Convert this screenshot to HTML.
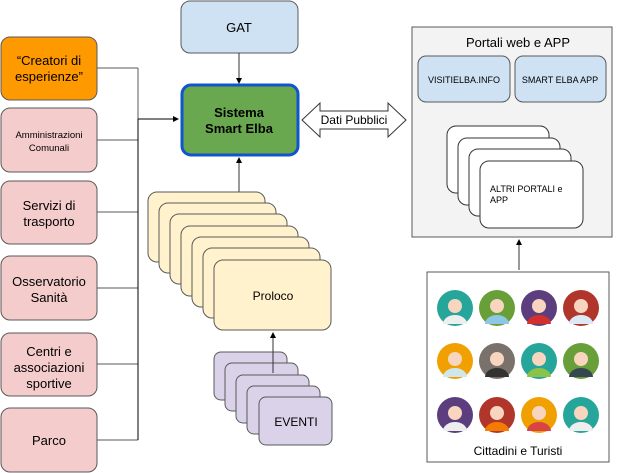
<!DOCTYPE html>
<html><head><meta charset="utf-8"><style>
html,body{margin:0;padding:0;background:#fff;}
svg{display:block;font-family:"Liberation Sans",Arial,sans-serif;}
</style></head><body>
<svg width="624" height="473" viewBox="0 0 624 473" xmlns="http://www.w3.org/2000/svg">
<defs><marker id="a" markerWidth="6" markerHeight="6" refX="5" refY="3" orient="auto" markerUnits="userSpaceOnUse"><path d="M0,0L6,3L0,6z" fill="#000"/></marker></defs>
<g stroke="#595959" stroke-width="1">
<rect x="1" y="37" width="96" height="63" rx="9" fill="#ff9900"/>
<rect x="1" y="108" width="96" height="64" rx="9" fill="#f4cccc"/>
<rect x="1" y="181" width="96" height="63" rx="9" fill="#f4cccc"/>
<rect x="1" y="256" width="96" height="64" rx="9" fill="#f4cccc"/>
<rect x="1" y="333" width="96" height="63" rx="9" fill="#f4cccc"/>
<rect x="1" y="408" width="96" height="64" rx="9" fill="#f4cccc"/>
<path d="M97,68H138M97,140H138M97,212H138M97,288H138M97,364H138M97,440H138M138,68V440" fill="none"/>
</g>
<path d="M138,119H178" stroke="#000" marker-end="url(#a)"/>
<path d="M138,119V440" stroke="#000"/>
<rect x="181" y="1" width="117" height="52" rx="9" fill="#cfe2f3" stroke="#595959"/>
<path d="M239,53V83" stroke="#333" marker-end="url(#a)"/>
<rect x="182" y="85" width="116" height="70" rx="9" fill="#6aa84f" stroke="#1155cc" stroke-width="3"/>
<path d="M239,192V158" stroke="#333" marker-end="url(#a)"/>
<g fill="#fff2cc" stroke="#595959">
<rect x="148" y="192" width="117" height="70" rx="9"/>
<rect x="159" y="203" width="117" height="70" rx="9"/>
<rect x="170" y="214" width="117" height="70" rx="9"/>
<rect x="181" y="226" width="117" height="70" rx="9"/>
<rect x="192" y="237" width="117" height="70" rx="9"/>
<rect x="203" y="248" width="117" height="70" rx="9"/>
<rect x="214" y="260" width="117" height="70" rx="9"/>
</g>
<g fill="#d9d2e9" stroke="#595959">
<rect x="214" y="352" width="73" height="48" rx="7"/>
<rect x="225" y="363" width="73" height="48" rx="7"/>
<rect x="236" y="375" width="73" height="48" rx="7"/>
<rect x="247" y="386" width="73" height="48" rx="7"/>
<rect x="259" y="397" width="73" height="48" rx="7"/>
</g>
<path d="M273,373V333" stroke="#333" marker-end="url(#a)"/>
<path d="M302,120L320,103V111H388V103L406,120L388,137V129H320V137Z" fill="#fff" stroke="#333"/>
<rect x="412" y="27" width="200" height="210" fill="#f3f3f3" stroke="#595959"/>
<rect x="418" y="56" width="92" height="46" rx="8" fill="#cfe2f3" stroke="#595959"/>
<rect x="515" y="56" width="91" height="46" rx="8" fill="#cfe2f3" stroke="#595959"/>
<g fill="#fff" stroke="#333">
<rect x="447" y="126" width="102" height="67" rx="9"/>
<rect x="458" y="138" width="102" height="67" rx="9"/>
<rect x="469" y="149" width="102" height="67" rx="9"/>
<rect x="480" y="161" width="103" height="67" rx="9"/>
</g>
<path d="M519,270V240" stroke="#333" marker-end="url(#a)"/>
<rect x="427" y="272" width="182" height="190" fill="#fff" stroke="#595959"/>
<g>
<circle cx="455" cy="308" r="18" fill="#26a69a"/><circle cx="497" cy="308" r="18" fill="#689f38"/><circle cx="539" cy="308" r="18" fill="#5c3d7e"/><circle cx="581" cy="308" r="18" fill="#b0352b"/>
<circle cx="455" cy="361" r="18" fill="#f0a000"/><circle cx="497" cy="361" r="18" fill="#7b716c"/><circle cx="539" cy="361" r="18" fill="#26a69a"/><circle cx="581" cy="361" r="18" fill="#689f38"/>
<circle cx="455" cy="415" r="18" fill="#5c3d7e"/><circle cx="497" cy="415" r="18" fill="#b0352b"/><circle cx="539" cy="415" r="18" fill="#f0a000"/><circle cx="581" cy="415" r="18" fill="#26a69a"/>
</g>
<g fill="#f8d5bf">
<circle cx="455" cy="306" r="7"/><circle cx="497" cy="306" r="7"/><circle cx="539" cy="306" r="7"/><circle cx="581" cy="306" r="7"/>
<circle cx="455" cy="359" r="7"/><circle cx="497" cy="359" r="7"/><circle cx="539" cy="359" r="7"/><circle cx="581" cy="359" r="7"/>
<circle cx="455" cy="413" r="7"/><circle cx="497" cy="413" r="7"/><circle cx="539" cy="413" r="7"/><circle cx="581" cy="413" r="7"/>
</g>
<g fill="#eee">
<path d="M443,324a12,9 0 0 1 24,0z"/><path d="M485,324a12,9 0 0 1 24,0z" fill="#8ec6e6"/><path d="M527,324a12,9 0 0 1 24,0z" fill="#d32f2f"/><path d="M569,324a12,9 0 0 1 24,0z" fill="#dce9f5"/>
<path d="M443,377a12,9 0 0 1 24,0z" fill="#cfe6ea"/><path d="M485,377a12,9 0 0 1 24,0z" fill="#333"/><path d="M527,377a12,9 0 0 1 24,0z" fill="#8bc34a"/><path d="M569,377a12,9 0 0 1 24,0z" fill="#37474f"/>
<path d="M443,431a12,9 0 0 1 24,0z"/><path d="M485,431a12,9 0 0 1 24,0z" fill="#f57c00"/><path d="M527,431a12,9 0 0 1 24,0z" fill="#d84343"/><path d="M569,431a12,9 0 0 1 24,0z"/>
</g>
<g fill="#000" text-anchor="middle">
<text x="49" y="65" font-size="13">“Creatori di</text>
<text x="49" y="81" font-size="13">esperienze”</text>
<text x="49" y="138" font-size="9.5">Amministrazioni</text>
<text x="49" y="151" font-size="9.5">Comunali</text>
<text x="49" y="210" font-size="13">Servizi di</text>
<text x="49" y="226" font-size="13">trasporto</text>
<text x="49" y="286" font-size="13">Osservatorio</text>
<text x="49" y="302" font-size="13">Sanità</text>
<text x="49" y="356" font-size="13">Centri e</text>
<text x="49" y="372" font-size="13">associazioni</text>
<text x="49" y="388" font-size="13">sportive</text>
<text x="49" y="445" font-size="13">Parco</text>
<text x="239" y="32" font-size="13">GAT</text>
<text x="239" y="117" font-size="13" font-weight="bold">Sistema</text>
<text x="239" y="133" font-size="13" font-weight="bold">Smart Elba</text>
<text x="273" y="300" font-size="12">Proloco</text>
<text x="296" y="426" font-size="12">EVENTI</text>
<text x="354" y="124" font-size="12">Dati Pubblici</text>
<text x="518" y="47" font-size="13">Portali web e APP</text>
<text x="464" y="83" font-size="9">VISITIELBA.INFO</text>
<text x="560" y="83" font-size="9">SMART ELBA APP</text>
<text x="518" y="455" font-size="12">Cittadini e Turisti</text>
</g>
<text x="490" y="192" font-size="9">ALTRI PORTALI e</text>
<text x="490" y="203" font-size="9">APP</text>
</svg>
</body></html>
